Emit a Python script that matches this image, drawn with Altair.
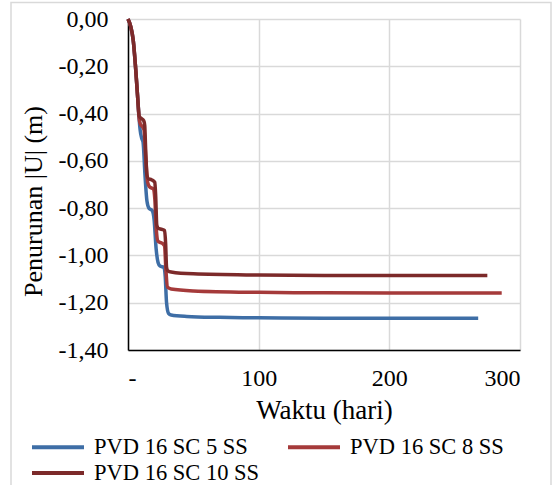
import altair as alt
import pandas as pd

# ---- data ----
series_names = ["PVD 16 SC 5 SS", "PVD 16 SC 8 SS", "PVD 16 SC 10 SS"]
series_colors = ["#3E6EA6", "#A53A3A", "#7C2A2A"]

days_5ss = [0, 2, 4, 6, 7.5, 8.5, 9.3, 10.5, 11.5, 13, 14.5, 16, 18.5, 20, 21.5, 23,
            24.5, 27.5, 28.5, 29.5, 31, 33, 45, 70, 100, 150, 200, 268]
vals_5ss = [0, -0.03, -0.09, -0.22, -0.34, -0.42, -0.47, -0.505, -0.52, -0.66, -0.77,
            -0.80, -0.81, -0.85, -0.97, -1.03, -1.045, -1.05, -1.09, -1.20, -1.245,
            -1.252, -1.258, -1.262, -1.264, -1.266, -1.266, -1.266]

days_8ss = [0, 2, 4, 6, 7.5, 8.5, 9.5, 11, 12.3, 13.5, 15, 16.5, 19.5, 20.5, 21.8, 23,
            26.5, 28, 29, 30.3, 33, 50, 100, 150, 200, 286]
vals_8ss = [0, -0.03, -0.09, -0.22, -0.34, -0.42, -0.445, -0.455, -0.47, -0.58, -0.69,
            -0.71, -0.72, -0.76, -0.90, -0.94, -0.95, -0.96, -1.06, -1.135, -1.142,
            -1.150, -1.156, -1.158, -1.159, -1.159]

days_10ss = [0, 2, 4, 6, 7.5, 8.5, 10, 12, 12.8, 13.5, 14.5, 15.5, 18, 20.5, 21.2, 22,
             23, 26, 28, 28.8, 29.5, 30.5, 33, 50, 100, 150, 200, 275]
vals_10ss = [0, -0.03, -0.09, -0.22, -0.34, -0.41, -0.42, -0.43, -0.45, -0.55, -0.66,
             -0.675, -0.68, -0.69, -0.75, -0.87, -0.885, -0.89, -0.895, -0.95, -1.05,
             -1.065, -1.07, -1.078, -1.083, -1.085, -1.085, -1.085]

x_ticks = [0, 100, 200, 300]
y_ticks = [0, -0.2, -0.4, -0.6, -0.8, -1.0, -1.2, -1.4]

rows = []
for name, ds, vs in zip(series_names, [days_5ss, days_8ss, days_10ss],
                        [vals_5ss, vals_8ss, vals_10ss]):
    for i, (d, v) in enumerate(zip(ds, vs)):
        rows.append({"series": name, "day": d, "val": v, "order": i})
df = pd.DataFrame(rows)

FONT = "Liberation Serif"

lines = alt.Chart(df).mark_line(strokeWidth=3.5, interpolate="monotone").encode(
    x=alt.X("day:Q",
            scale=alt.Scale(domain=[0, 300], nice=False, zero=False),
            axis=alt.Axis(values=x_ticks, title="Waktu (hari)",
                          labelExpr="datum.value == 0 ? '-' : format(datum.value, 'd')",
                          grid=True, gridColor="#D9D9D9", gridWidth=1.5,
                          ticks=False, domainColor="#000000", domainWidth=1.5,
                          labelFont=FONT, labelFontSize=24, labelColor="#000000",
                          labelPadding=16,
                          titleFont=FONT, titleFontSize=27, titleFontWeight="normal",
                          titleColor="#000000", titleBaseline="middle", titleY=60)),
    y=alt.Y("val:Q",
            scale=alt.Scale(domain=[-1.4, 0], nice=False, zero=False),
            axis=alt.Axis(values=y_ticks, title="Penurunan |U| (m)",
                          labelExpr="(datum.value < -0.001 ? '-' : '') + replace(format(abs(datum.value), '.2f'), '.', ',')",
                          grid=True, gridColor="#D9D9D9", gridWidth=1.5,
                          ticks=False, domainColor="#000000", domainWidth=1.5,
                          labelFont=FONT, labelFontSize=24, labelColor="#000000",
                          labelPadding=20,
                          titleFont=FONT, titleFontSize=26, titleFontWeight="normal",
                          titleColor="#000000", titleAngle=-90, titleBaseline="middle",
                          titleAlign="center", titleX=-95, titleY=182)),
    color=alt.Color("series:N",
                    scale=alt.Scale(domain=series_names, range=series_colors),
                    legend=alt.Legend(title=None, orient="none", legendX=-98, legendY=416,
                                      direction="horizontal", columns=2,
                                      symbolType="M-1,0H4.2", symbolSize=400,
                                      symbolStrokeWidth=4, labelFont=FONT,
                                      labelFontSize=22.5, labelColor="#000000",
                                      labelLimit=400, labelOffset=40,
                                      rowPadding=2, columnPadding=20)),
    order="order:Q",
)

border = alt.Chart(pd.DataFrame({"a": [0]})).mark_rect(
    filled=False, stroke="#D9D9D9", strokeWidth=1.5, clip=False
).encode(x=alt.value(-117), x2=alt.value(423), y=alt.value(-16.5), y2=alt.value(500))

chart = alt.layer(border, lines).properties(
    width=392, height=331,
    autosize=alt.AutoSizeParams(type="none"),
    padding={"left": 128, "top": 19, "right": 35, "bottom": 135},
    background="#FFFFFF",
).configure_view(stroke=None)

chart.save("out.html", embed_options={"renderer": "svg", "actions": False})
